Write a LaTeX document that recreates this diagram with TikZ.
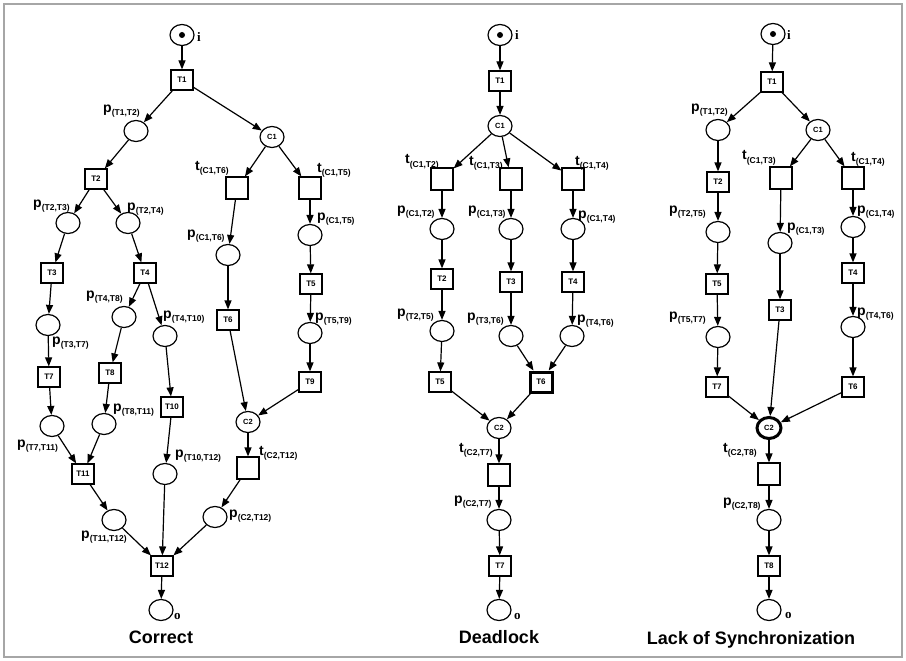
\documentclass[tikz,border=0pt]{standalone}
\usepackage{fontspec}
\setmainfont{Liberation Sans}
\newfontfamily\ioface{Liberation Serif}
\usetikzlibrary{arrows.meta,shapes.geometric}
\newcommand{\nlab}[2]{#1\raisebox{-3pt}{\fontsize{8.5}{9}\selectfont(#2)}}
\begin{document}
\begin{tikzpicture}[x=1pt,y=-1pt]
\tikzstyle{pl} = [ellipse,draw=black,line width=1.2pt,minimum width=24pt,minimum height=21pt,inner sep=0pt,font=\bfseries\fontsize{7.5}{8}\selectfont] %place
\tikzstyle{tr} = [rectangle,draw=black,line width=1.2pt,minimum width=22pt,minimum height=20pt,inner sep=0pt,font=\bfseries\fontsize{8}{8}\selectfont] %transition
\tikzstyle{ts} = [tr,minimum height=22pt] %silent transition
\tikzstyle{hl} = [line width=3pt] %faulty node
\tikzstyle{ar} = [-{Triangle[length=9pt,width=7pt]},line width=1.2pt] %arc
\tikzstyle{lb} = [inner sep=0pt,anchor=base west,font=\bfseries\fontsize{14}{14}\selectfont] %arc label
\tikzstyle{io} = [inner sep=0pt,anchor=base west,font=\ioface\bfseries\fontsize{13}{13}\selectfont] %i/o label
\tikzstyle{ttl} = [inner sep=0pt,anchor=base,font=\bfseries\fontsize{18}{18}\selectfont] %caption
\useasboundingbox(0,0)rectangle(906,661);
\draw[gray!70,line width=1.5pt](4,4)rectangle(902,657);
% correct net
\node[pl](ai)at(182,35){};
\fill(ai)circle(3pt);
\node[tr](aT1)at(182,80){T1};
\node[pl](ap12)at(136,131){};
\node[pl](aC1)at(272,137){C1};
\node[tr](aT2)at(96,179){T2};
\node[ts](at16)at(237,188){};
\node[ts](at15)at(310,188){};
\node[pl](ap23)at(68,223){};
\node[pl](ap24)at(128,223){};
\node[pl](ap16)at(228,255){};
\node[pl](ap15)at(310,235){};
\node[tr](aT3)at(52,273){T3};
\node[tr](aT4)at(145,273){T4};
\node[tr](aT5)at(311,284){T5};
\node[pl](ap48)at(124,317){};
\node[pl](ap410)at(165,336){};
\node[tr](aT6)at(228,320){T6};
\node[pl](ap59)at(310,333){};
\node[pl](ap37)at(48,325){};
\node[tr](aT7)at(49,377){T7};
\node[tr](aT8)at(110,373){T8};
\node[tr](aT10)at(172,407){T10};
\node[tr](aT9)at(310,382){T9};
\node[pl](aC2)at(248,422){C2};
\node[pl](ap711)at(52,426){};
\node[pl](ap811)at(104,424){};
\node[tr](aT11)at(83,474){T11};
\node[pl](ap1012)at(165,474){};
\node[ts](at212)at(248,468){};
\node[pl](ap1112)at(114,520){};
\node[pl](ap212)at(215,517){};
\node[tr](aT12)at(162,566){T12};
\node[pl](ao)at(161,610){};
\node[io](lai)at(197,42){i};
\node[io](lao)at(174,619){o};
\node[lb](lap12)at(103,113){\nlab{p}{T1,T2}};
\node[lb](lap23)at(33,207){\nlab{p}{T2,T3}};
\node[lb](lap24)at(127,210){\nlab{p}{T2,T4}};
\node[lb](lat16)at(195,170){\nlab{t}{C1,T6}};
\node[lb](lat15)at(317,172){\nlab{t}{C1,T5}};
\node[lb](lap16)at(187,237){\nlab{p}{C1,T6}};
\node[lb](lap15)at(317,220){\nlab{p}{C1,T5}};
\node[lb](lap48)at(86,298){\nlab{p}{T4,T8}};
\node[lb](lap410)at(163,318){\nlab{p}{T4,T10}};
\node[lb](lap59)at(315,320){\nlab{p}{T5,T9}};
\node[lb](lap37)at(52,344){\nlab{p}{T3,T7}};
\node[lb](lap811)at(113,411){\nlab{p}{T8,T11}};
\node[lb](lap711)at(17,447){\nlab{p}{T7,T11}};
\node[lb](lap1012)at(175,457){\nlab{p}{T10,T12}};
\node[lb](lat212)at(259,455){\nlab{t}{C2,T12}};
\node[lb](lap212)at(229,517){\nlab{p}{C2,T12}};
\node[lb](lap1112)at(81,538){\nlab{p}{T11,T12}};
\node[ttl](tta)at(161,643){Correct};
\draw[ar](ai)--(aT1);
\draw[ar](aT1)--(ap12);
\draw[ar](aT1)--(aC1);
\draw[ar](ap12)--(aT2);
\draw[ar](aC1)--(at16);
\draw[ar](aC1)--(at15);
\draw[ar](aT2)--(ap23);
\draw[ar](aT2)--(ap24);
\draw[ar](at16)--(ap16);
\draw[ar](at15)--(ap15);
\draw[ar](ap23)--(aT3);
\draw[ar](ap24)--(aT4);
\draw[ar](ap16)--(aT6);
\draw[ar](ap15)--(aT5);
\draw[ar](aT3)--(ap37);
\draw[ar](aT4)--(ap48);
\draw[ar](aT4)--(ap410);
\draw[ar](aT5)--(ap59);
\draw[ar](ap37)--(aT7);
\draw[ar](ap48)--(aT8);
\draw[ar](ap410)--(aT10);
\draw[ar](ap59)--(aT9);
\draw[ar](aT6)--(aC2);
\draw[ar](aT9)--(aC2);
\draw[ar](aT7)--(ap711);
\draw[ar](aT8)--(ap811);
\draw[ar](aT10)--(ap1012);
\draw[ar](aC2)--(at212);
\draw[ar](ap711)--(aT11);
\draw[ar](ap811)--(aT11);
\draw[ar](aT11)--(ap1112);
\draw[ar](at212)--(ap212);
\draw[ar](ap1112)--(aT12);
\draw[ar](ap1012)--(aT12);
\draw[ar](ap212)--(aT12);
\draw[ar](aT12)--(ao);
% deadlock net
\node[pl](bi)at(500,35){};
\fill(bi)circle(3pt);
\node[tr](bT1)at(500,81){T1};
\node[pl](bC1)at(500,126){C1};
\node[ts](bt2)at(442,179){};
\node[ts](bt3)at(511,179){};
\node[ts](bt4)at(573,179){};
\node[pl](bp2)at(442,229){};
\node[pl](bp3)at(511,229){};
\node[pl](bp4)at(573,229){};
\node[tr](bT2)at(442,279){T2};
\node[tr](bT3)at(511,282){T3};
\node[tr](bT4)at(573,282){T4};
\node[pl](bp25)at(442,331){};
\node[pl](bp36)at(511,336){};
\node[pl](bp46)at(572,336){};
\node[tr](bT5)at(440,382){T5};
\node[tr,hl](bT6)at(541,382){T6};
\node[pl](bC2)at(499,428){C2};
\node[ts](bt27)at(499,475){};
\node[pl](bp27)at(499,520){};
\node[tr](bT7)at(500,566){T7};
\node[pl](bo)at(499,610){};
\node[io](lbi)at(515,40){i};
\node[io](lbo)at(514,619){o};
\node[lb](lbt2)at(405,164){\nlab{t}{C1,T2}};
\node[lb](lbt3)at(469,165){\nlab{t}{C1,T3}};
\node[lb](lbt4)at(575,165){\nlab{t}{C1,T4}};
\node[lb](lbp2)at(397,213){\nlab{p}{C1,T2}};
\node[lb](lbp3)at(468,213){\nlab{p}{C1,T3}};
\node[lb](lbp4)at(578,218){\nlab{p}{C1,T4}};
\node[lb](lbp25)at(397,316){\nlab{p}{T2,T5}};
\node[lb](lbp36)at(467,320){\nlab{p}{T3,T6}};
\node[lb](lbp46)at(577,322){\nlab{p}{T4,T6}};
\node[lb](lbt27)at(459,452){\nlab{t}{C2,T7}};
\node[lb](lbp27)at(454,503){\nlab{p}{C2,T7}};
\node[ttl](ttb)at(499,643){Deadlock};
\draw[ar](bi)--(bT1);
\draw[ar](bT1)--(bC1);
\draw[ar](bC1)--(bt2);
\draw[ar](bC1)--(bt3);
\draw[ar](bC1)--(bt4);
\draw[ar](bt2)--(bp2);
\draw[ar](bt3)--(bp3);
\draw[ar](bt4)--(bp4);
\draw[ar](bp2)--(bT2);
\draw[ar](bp3)--(bT3);
\draw[ar](bp4)--(bT4);
\draw[ar](bT2)--(bp25);
\draw[ar](bT3)--(bp36);
\draw[ar](bT4)--(bp46);
\draw[ar](bp25)--(bT5);
\draw[ar](bp36)--(bT6);
\draw[ar](bp46)--(bT6);
\draw[ar](bT5)--(bC2);
\draw[ar](bT6)--(bC2);
\draw[ar](bC2)--(bt27);
\draw[ar](bt27)--(bp27);
\draw[ar](bp27)--(bT7);
\draw[ar](bT7)--(bo);
% lack of synchronization net
\node[pl](ci)at(773,34){};
\fill(ci)circle(3pt);
\node[tr](cT1)at(772,82){T1};
\node[pl](cp12)at(718,130){};
\node[pl](cC1)at(818,130){C1};
\node[tr](cT2)at(718,182){T2};
\node[ts](ct3)at(781,178){};
\node[ts](ct4)at(853,178){};
\node[pl](cp25)at(718,232){};
\node[pl](cp3)at(780,243){};
\node[pl](cp4)at(853,227){};
\node[tr](cT5)at(717,284){T5};
\node[tr](cT4)at(853,273){T4};
\node[tr](cT3)at(780,310){T3};
\node[pl](cp57)at(718,337){};
\node[pl](cp46)at(853,327){};
\node[tr](cT7)at(717,387){T7};
\node[tr](cT6)at(853,387){T6};
\node[pl,hl](cC2)at(769,428){C2};
\node[ts](ct28)at(769,474){};
\node[pl](cp28)at(769,520){};
\node[tr](cT8)at(769,566){T8};
\node[pl](co)at(769,610){};
\node[io](lci)at(787,40){i};
\node[io](lco)at(785,618){o};
\node[lb](lcp12)at(691,111){\nlab{p}{T1,T2}};
\node[lb](lct3)at(742,160){\nlab{t}{C1,T3}};
\node[lb](lct4)at(851,161){\nlab{t}{C1,T4}};
\node[lb](lcp25)at(669,213){\nlab{p}{T2,T5}};
\node[lb](lcp4)at(857,213){\nlab{p}{C1,T4}};
\node[lb](lcp3)at(787,230){\nlab{p}{C1,T3}};
\node[lb](lcp57)at(669,319){\nlab{p}{T5,T7}};
\node[lb](lcp46)at(857,315){\nlab{p}{T4,T6}};
\node[lb](lct28)at(723,452){\nlab{t}{C2,T8}};
\node[lb](lcp28)at(723,505){\nlab{p}{C2,T8}};
\node[ttl](ttc)at(751,644){Lack of Synchronization};
\draw[ar](ci)--(cT1);
\draw[ar](cT1)--(cp12);
\draw[ar](cT1)--(cC1);
\draw[ar](cp12)--(cT2);
\draw[ar](cC1)--(ct3);
\draw[ar](cC1)--(ct4);
\draw[ar](cT2)--(cp25);
\draw[ar](ct3)--(cp3);
\draw[ar](ct4)--(cp4);
\draw[ar](cp25)--(cT5);
\draw[ar](cp3)--(cT3);
\draw[ar](cp4)--(cT4);
\draw[ar](cT5)--(cp57);
\draw[ar](cT4)--(cp46);
\draw[ar](cp57)--(cT7);
\draw[ar](cp46)--(cT6);
\draw[ar](cT3)--(cC2);
\draw[ar](cT7)--(cC2);
\draw[ar](cT6)--(cC2);
\draw[ar](cC2)--(ct28);
\draw[ar](ct28)--(cp28);
\draw[ar](cp28)--(cT8);
\draw[ar](cT8)--(co);
\end{tikzpicture}
\end{document}
